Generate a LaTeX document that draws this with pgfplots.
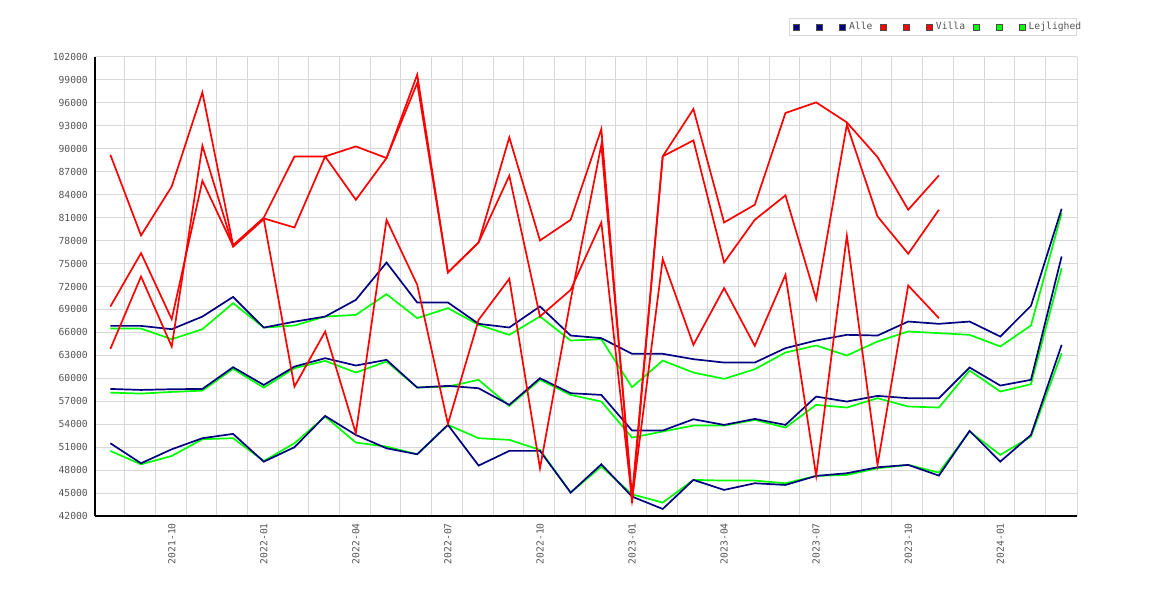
\documentclass[border=0pt]{standalone}
\usepackage{pgfplots}
\pgfplotsset{compat=1.18}
\usepackage{pgfplotstable}
\usepackage{fontspec}
\setmainfont{DejaVu Sans Mono}
\definecolor{cnavy}{HTML}{000080}
\definecolor{cred}{HTML}{FF0000}
\definecolor{cgreen}{HTML}{00FF00}
\definecolor{cgrid}{HTML}{D9D9D9}
\definecolor{ctext}{HTML}{555555}

\pgfplotstableread{
i a1 a2 a3
0 66850 58610 51510
1 66850 58480 48890
2 66420 58570 50720
3 68070 58610 52170
4 70640 61450 52730
5 66630 59130 49100
6 67400 61530 50990
7 68070 62630 55080
8 70250 61670 52600
9 75130 62410 50850
10 69900 58790 50070
11 69910 59010 53910
12 67120 58700 48590
13 66640 56530 50510
14 69390 60010 50510
15 65590 58050 45060
16 65250 57830 48760
17 63200 53170 44540
18 63200 53170 42920
19 62500 54650 46720
20 62060 53910 45410
21 62060 54690 46280
22 63940 53910 46060
23 64940 57610 47240
24 65680 56960 47590
25 65590 57700 48370
26 67420 57400 48680
27 67120 57400 47280
28 67420 61410 53130
29 65460 59050 49110
30 69480 59800 52600
31 82160 75930 64370
}\alle

\pgfplotstableread{
i v1 v2 v3
0 89220 69380 63840
1 78670 76360 73300
2 85070 67730 64150
3 97370 85820 90400
4 77400 77300 77200
5 81000 80900 80800
6 89000 79710 58910
7 89000 89000 66110
8 90310 83330 52820
9 88790 88790 80720
10 99690 98600 72220
11 73830 73830 54040
12 77760 77760 67640
13 91490 86480 73010
14 78020 68080 48240
15 80720 71560 70250
16 92580 80370 90530
17 43700 44100 44600
18 89010 75580 89010
19 95200 64370 91100
20 80370 71790 75140
21 82690 64240 80720
22 94680 73530 83910
23 96070 47240 70350
24 93450 78630 93150
25 88920 48680 81160
26 82030 72130 76280
27 86520 67860 82030
}\villa

\pgfplotstableread{
i g1 g2 g3
0 66500 58130 50500
1 66500 58000 48760
2 65110 58220 49850
3 66420 58390 52040
4 69820 61230 52170
5 66630 58780 49190
6 66900 61320 51510
7 68070 62280 55000
8 68290 60750 51600
9 71000 62200 51070
10 67860 58790 50070
11 69170 58920 53910
12 66990 59800 52170
13 65680 56400 51950
14 68080 59800 50640
15 64940 57830 45060
16 65110 56960 48460
17 58840 52250 44840
18 62320 53040 43750
19 60750 53820 46720
20 59930 53820 46630
21 61190 54560 46630
22 63370 53560 46280
23 64290 56530 47240
24 62980 56180 47370
25 64810 57400 48240
26 66120 56310 48680
27 65900 56180 47670
28 65680 61020 53040
29 64160 58270 49990
30 66900 59230 52380
31 81600 74400 63280
}\lejl

\begin{document}
\begin{tikzpicture}
\useasboundingbox (0,0) rectangle (1170pt,600pt);
\begin{axis}[
  at={(95pt,84pt)}, anchor=south west,
  scale only axis, width=982pt, height=459pt,
  xmin=-0.5, xmax=31.5, ymin=42000, ymax=102000,
  scaled y ticks=false,
  axis x line*=bottom, axis y line*=left,
  axis line style={black, line width=1.3pt, -},
  ytick={42000,45000,...,102000},
  yticklabels={42000,45000,48000,51000,54000,57000,60000,63000,66000,69000,72000,75000,78000,81000,84000,87000,90000,93000,96000,99000,102000},
  xtick={2,5,8,11,14,17,20,23,26,29},
  xticklabels={2021-10,2022-01,2022-04,2022-07,2022-10,2023-01,2023-04,2023-07,2023-10,2024-01},
  minor xtick={0.47,1.47,2.47,3.47,4.47,5.47,6.47,7.47,8.47,9.47,10.47,11.47,12.47,13.47,14.47,15.47,16.47,17.47,18.47,19.47,20.47,21.47,22.47,23.47,24.47,25.47,26.47,27.47,28.47,29.47,30.47,31.5},
  ymajorgrids, xminorgrids, xmajorgrids=false,
  grid style={cgrid, line width=1pt},
  minor grid style={cgrid, line width=1pt},
  major tick length=0pt, minor tick length=0pt,
  tick style={draw=none},
  ticklabel style={font=\fontsize{9.7}{11}\selectfont, text=ctext},
  yticklabel style={inner sep=0pt},
  yticklabel shift=7pt,
  xticklabel style={rotate=90, anchor=east, inner sep=0pt},
  xticklabel shift=7pt,
  every axis plot/.append style={line width=1.7pt},
  legend columns=9,
  legend image code/.code={\draw[#1, fill, draw=gray!60!black, line width=0.6pt] (0pt,-3pt) rectangle (6pt,3pt);},
  legend style={at={(1,1.085)}, anchor=north east, draw=cgrid, line width=1pt, fill=white,
    font=\fontsize{9.7}{11}\selectfont, text=ctext, inner xsep=4pt, inner ysep=4pt,
    nodes={inner sep=0pt},
    /tikz/column sep=3.5pt,
    /tikz/every even column/.append style={column sep=7.6pt}},
]
\addplot[cgreen, forget plot] table[x=i, y=g1] {\lejl};
\addplot[cgreen, forget plot] table[x=i, y=g2] {\lejl};
\addplot[cgreen, forget plot] table[x=i, y=g3] {\lejl};
\addplot[cnavy, forget plot] table[x=i, y=a1] {\alle};
\addplot[cnavy, forget plot] table[x=i, y=a2] {\alle};
\addplot[cnavy, forget plot] table[x=i, y=a3] {\alle};
\addplot[cred, forget plot] table[x=i, y=v1] {\villa};
\addplot[cred, forget plot] table[x=i, y=v2] {\villa};
\addplot[cred, forget plot] table[x=i, y=v3] {\villa};
\addlegendimage{cnavy}\addlegendentry{\hspace*{5.2pt}}
\addlegendimage{cnavy}\addlegendentry{\hspace*{5.2pt}}
\addlegendimage{cnavy}\addlegendentry{Alle}
\addlegendimage{cred}\addlegendentry{\hspace*{5.2pt}}
\addlegendimage{cred}\addlegendentry{\hspace*{5.2pt}}
\addlegendimage{cred}\addlegendentry{Villa}
\addlegendimage{cgreen}\addlegendentry{\hspace*{5.2pt}}
\addlegendimage{cgreen}\addlegendentry{\hspace*{5.2pt}}
\addlegendimage{cgreen}\addlegendentry{Lejlighed\hspace*{-8.7pt}}
\end{axis}
\end{tikzpicture}
\end{document}
